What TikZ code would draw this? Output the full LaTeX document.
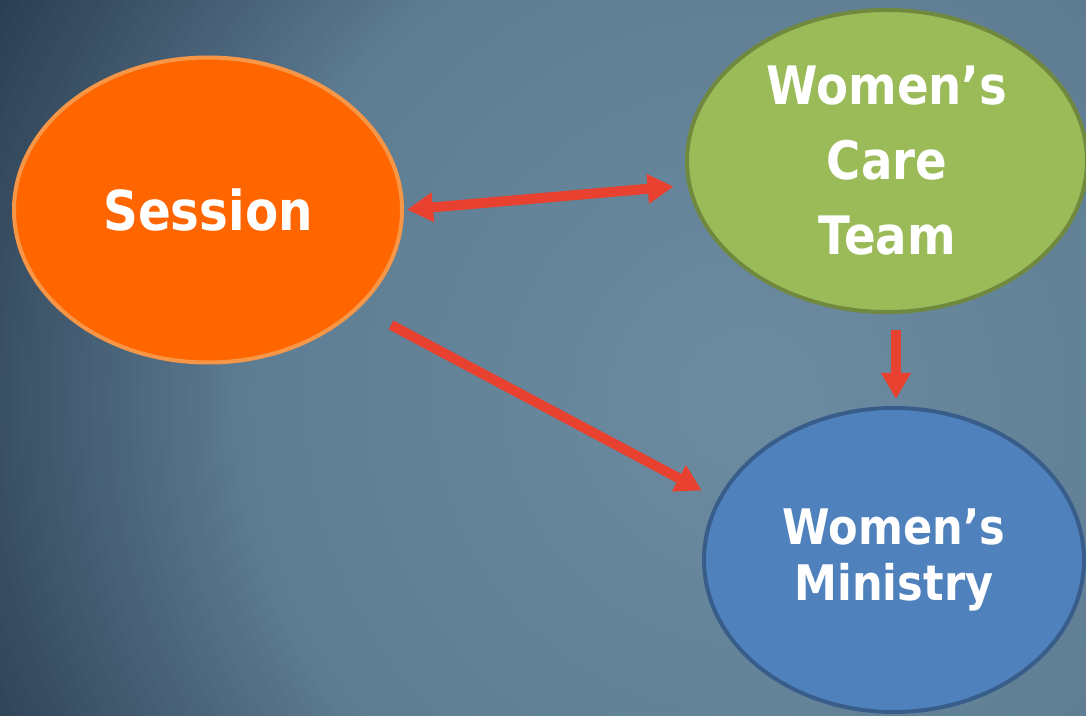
\documentclass[tikz,border=0pt]{standalone}
\usepackage{fontspec}
\usepackage{xcolor}
\usetikzlibrary{shapes.geometric,arrows.meta}
\newfontfamily\bubblefont{DejaVu Sans}[FakeStretch=0.88]
\definecolor{bginner}{HTML}{6C8CA1}
\definecolor{bgmid}{HTML}{5E7D93}
\definecolor{bgouter}{HTML}{2C3E52}
\definecolor{sessionfill}{HTML}{FF6600}
\definecolor{sessionline}{HTML}{F79646}
\definecolor{carefill}{HTML}{9BBB59}
\definecolor{careline}{HTML}{71893F}
\definecolor{ministryfill}{HTML}{4F81BD}
\definecolor{ministryline}{HTML}{385D8A}
\definecolor{linkred}{HTML}{E8412F}
\begin{document}
\begin{tikzpicture}[x=1pt,y=1pt,
  bubble/.style={ellipse,inner sep=0pt,outer sep=0pt,line width=4pt,text=white,align=center},
  link/.style={draw=linkred,line width=10pt,-{Triangle[length=26pt,width=28pt]}}]
% Drawing background
\useasboundingbox (0,0) rectangle (1086,715);
\begin{scope}
\clip (0,0) rectangle (1086,715);
\fill[bgouter] (0,0) rectangle (1086,715);
\foreach \r in {880,870,...,500} {
  \pgfmathtruncatemacro\p{min(100,(\r-500)/3.5)}
  \fill[bgouter!\p!bgmid] (750,315) circle (\r pt);
}
\foreach \r in {495,485,...,5} {
  \pgfmathtruncatemacro\p{\r/5}
  \fill[bgmid!\p!bginner] (750,315) circle (\r pt);
}
\end{scope}
% Drawing bubbles
\node[bubble,fill=sessionfill,draw=sessionline,minimum width=388pt,minimum height=305pt,
  font={\bubblefont\bfseries\fontsize{55}{66}\selectfont}] (session) at (208,505) {Session};
\node[bubble,fill=carefill,draw=careline,minimum width=400pt,minimum height=302pt,
  font={\bubblefont\bfseries\fontsize{53}{75}\selectfont}] (care) at (887,554) {Women’s\\Care\\Team};
\node[bubble,fill=ministryfill,draw=ministryline,minimum width=380pt,minimum height=304pt,
  font={\bubblefont\bfseries\fontsize{49}{56}\selectfont}] (ministry) at (894,155) {Women’s\\Ministry};
% Drawing links
\draw[link,{Triangle[length=26pt,width=28pt]}-{Triangle[length=26pt,width=28pt]},
  shorten <=5pt,shorten >=16pt] (session.east) -- (care.187);
\draw[link,shorten <=38pt,shorten >=20pt] (session.-33) -- (ministry.161);
\draw[link,shorten <=18pt,shorten >=9pt] ([xshift=9pt]care.south) -- ([xshift=2pt]ministry.north);
\end{tikzpicture}
\end{document}
